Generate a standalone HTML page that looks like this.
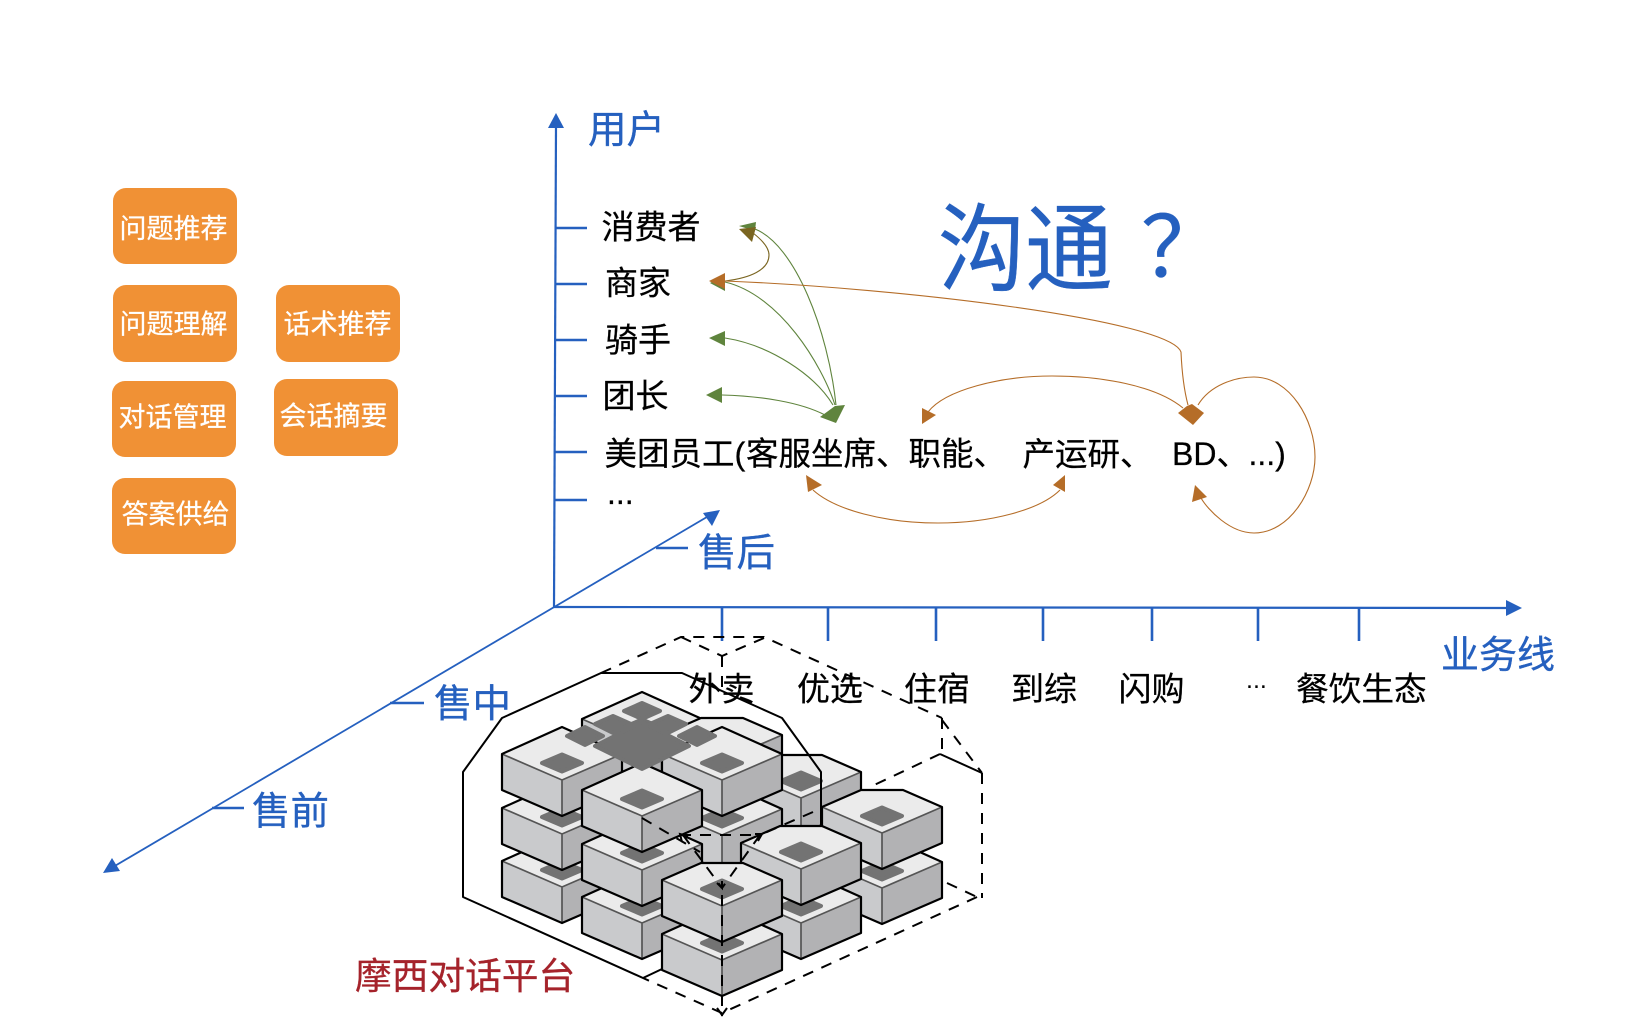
<!DOCTYPE html>
<html lang="zh"><head><meta charset="utf-8"><title>摩西对话平台</title>
<style>
html,body{margin:0;padding:0;background:#fff}
svg{display:block}
text{font-family:"Liberation Sans","Noto Sans CJK SC",sans-serif}
.b{fill:#2560BF;stroke:#2560BF;stroke-width:.35px;font-size:38.5px}
.k{fill:#000;stroke:#000;stroke-width:.25px;font-size:33px}
.w{fill:#fff;stroke:#fff;stroke-width:.25px;font-size:27px}
</style></head><body>
<svg width="1652" height="1022" viewBox="0 0 1652 1022" xmlns="http://www.w3.org/2000/svg">
<defs>
<polygon id="d" points="0,-25.5 20,-17 0,-8.5 -20,-17" fill="#737373" stroke="#737373" stroke-width="4" stroke-linejoin="round"/>
<g id="bk">
<polygon points="-60,-26 0,-53 60,-26 0,0" fill="#ebebeb"/>
<polygon points="-60,-26 0,0 0,36 -60,10" fill="#c9cacc"/>
<polygon points="60,-26 0,0 0,36 60,10" fill="#b2b2b4"/>
<use href="#d"/>
<path d="M-60 -26 L0 0 L60 -26 M0 0 V36" fill="none" stroke="#555" stroke-width="1.7"/>
<polygon points="-60,-26 0,-53 60,-26 60,10 0,36 -60,10" fill="none" stroke="#000" stroke-width="2.2" stroke-linejoin="round"/>
</g>
<g id="fl">
<polygon points="-60,-26 -21,-43 21,-43 60,-26 0,0" fill="#ebebeb"/>
<polygon points="-60,-26 0,0 0,36 -60,10" fill="#c9cacc"/>
<polygon points="60,-26 0,0 0,36 60,10" fill="#b2b2b4"/>
<use href="#d"/>
<path d="M-60 -26 L0 0 L60 -26 M0 0 V36" fill="none" stroke="#555" stroke-width="1.7"/>
<polygon points="-60,-26 -21,-43 21,-43 60,-26 60,10 0,36 -60,10" fill="none" stroke="#000" stroke-width="2.2" stroke-linejoin="round"/>
</g>
</defs>
<rect width="1652" height="1022" fill="#fff"/>

<!-- orange boxes -->
<g fill="#F09135">
<rect x="113" y="188" width="124" height="76" rx="13"/>
<rect x="113" y="285" width="124" height="77" rx="13"/>
<rect x="276" y="285" width="124" height="77" rx="13"/>
<rect x="112" y="381" width="124" height="76" rx="13"/>
<rect x="274" y="379" width="124" height="77" rx="13"/>
<rect x="112" y="478" width="124" height="76" rx="13"/>
</g>
<text class="w" x="119.5" y="238">问题推荐</text>
<text class="w" x="119.5" y="333.5">问题理解</text>
<text class="w" x="283.5" y="333.5">话术推荐</text>
<text class="w" x="118.5" y="426.5">对话管理</text>
<text class="w" x="279.5" y="425.5">会话摘要</text>
<text class="w" x="121.5" y="523.5">答案供给</text>

<!-- axes -->
<g stroke="#2560BF" fill="none">
<path d="M554 607 L556 125" stroke-width="2.2"/>
<path d="M554 607 L1510 608" stroke-width="2.2"/>
<path d="M108 870 L712 514" stroke-width="1.8"/>
<path d="M556 228H587M556 284H587M556 340H587M556 396H587M555 452H587M555 500H587" stroke-width="2.6"/>
<path d="M722 607V641M828 607V641M936 607V641M1043 607V641M1152 607V641M1258 607V641M1359 607V641" stroke-width="2.6"/>
<path d="M656 548H688M390 703H424M212 808H244" stroke-width="2.6"/>
</g>
<g fill="#2560BF">
<polygon points="556,113 548,128 564,128"/>
<polygon points="1522,608 1506,600 1506,616"/>
<polygon points="103,873 120,871 112,858"/>
<polygon points="720,510 703,513 712,526"/>
</g>

<!-- blue labels -->
<text class="b" x="588" y="143">用户</text>
<text class="b" x="698" y="566">售后</text>
<text class="b" x="434" y="717">售中</text>
<text class="b" x="252" y="824.5">售前</text>
<text class="b" x="1441" y="668" style="font-size:38px">业务线</text>
<g transform="translate(938,283) scale(.97,1.06)"><text class="b" x="0" y="0" style="font-size:90px">沟通</text></g>
<text class="b" x="1141" y="277" style="font-size:84px">？</text>

<!-- cube stack -->
<use href="#bk" x="642" y="745"/>
<use href="#fl" x="722" y="761"/>
<use href="#fl" x="801" y="798"/>
<use href="#bk" x="722" y="835"/>
<use href="#bk" x="722" y="780"/>
<use href="#bk" x="882" y="888"/>
<use href="#fl" x="882" y="833"/>
<use href="#bk" x="562" y="887"/>
<use href="#bk" x="562" y="834"/>
<use href="#bk" x="562" y="780"/>
<use href="#bk" x="642" y="923"/>
<use href="#bk" x="642" y="870"/>
<use href="#bk" x="642" y="816"/>
<g fill="#737373" stroke="#737373" stroke-width="4" stroke-linejoin="round">
<polygon points="642,722 689,746 642,769 595,746"/>
<polygon points="642,703 660,711 642,719 624,711"/>
<polygon points="613,716 631,724 613,733 595,724"/>
<polygon points="668,716 686,724 668,733 650,724"/>
<polygon points="585,727 603,736 585,745 567,736"/>
<polygon points="697,727 715,736 697,745 679,736"/>
</g>
<use href="#bk" x="801" y="923"/>
<use href="#fl" x="801" y="869"/>
<use href="#bk" x="722" y="960"/>
<use href="#fl" x="722" y="906"/>

<!-- outlines -->
<path d="M662 969 L643 978 L463 897 V772 L502 718 L601 673 H682 L782 718 L821 772 V827" fill="none" stroke="#000" stroke-width="2" stroke-linejoin="round"/>
<path d="M940 754 L982 773" fill="none" stroke="#000" stroke-width="2"/>
<g fill="none" stroke="#000" stroke-width="2" stroke-dasharray="11 9">
<path d="M601 673 L681 637 H764 L942 718"/>
<path d="M681 637 L722 656 L764 638"/>
<path d="M722 656 V690"/>
<path d="M942 718 V754"/>
<path d="M942 720 L982 773"/>
<path d="M940 754 L870 787"/>
<path d="M813 812 L760 835"/>
<path d="M982 773 V898"/>
<path d="M977 897 L722 1013 L643 978"/>
<path d="M947 883 L977 897"/>
<path d="M722 895 V1016"/>
<path d="M642 818 L700 852"/>
<path d="M680 835 H760"/>
<path d="M683 835 L722 888"/>
<path d="M760 835 L722 888"/>
</g>
<g fill="none" stroke="#000" stroke-width="2">
<path d="M717 883 L722 888 L722 881"/>
<path d="M755 834 L762 834 L758 841"/>
<path d="M682 842 L680 834 L688 836"/>
<path d="M717 1008 L722 1015 L727 1008"/>
</g>

<!-- black labels -->
<text class="k" x="601.5" y="238.5">消费者</text>
<text class="k" x="605" y="294.5">商家</text>
<text class="k" x="605" y="351.5">骑手</text>
<text class="k" x="602.5" y="407.5">团长</text>
<text class="k" x="604.5" y="465" style="font-size:32.5px">美团员工(<tspan x="746">客服坐席、职能、</tspan></text>
<text class="k" x="1022.5" y="465.5" style="font-size:32.5px">产运研、</text>
<text class="k" x="1172" y="465" style="font-size:32px">BD、...)</text>
<text class="k" x="607" y="504" style="font-size:32px">...</text>
<text class="k" x="688.5" y="700.5">外卖</text>
<text class="k" x="797" y="700.5">优选</text>
<text class="k" x="904" y="700.5">住宿</text>
<text class="k" x="1011" y="700.5">到综</text>
<text class="k" x="1118.5" y="700.5">闪购</text>
<text x="1246" y="688" style="font-size:25px;fill:#000">...</text>
<text class="k" x="1296" y="700.5" style="font-size:32.7px">餐饮生态</text>
<text x="355" y="989" style="font-size:36.7px;fill:#A5232B;stroke:#A5232B;stroke-width:.3px">摩西对话平台</text>

<!-- green connectors -->
<g fill="none" stroke="#5F843D" stroke-width="1.1">
<path d="M755 229 C795 245 828 330 836 405"/>
<path d="M725 282 C780 295 822 365 835 405"/>
<path d="M725 338 C770 345 815 375 833 405"/>
<path d="M722 395 C760 396 800 402 825 415"/>
</g>
<g fill="#5F843D">
<polygon points="739,226 756,222 755,231"/>
<polygon points="710,283 725,275 725,291"/>
<polygon points="709,338 725,331 725,346"/>
<polygon points="706,395 722,387 722,403"/>
<polygon points="835,406 845,405 836,423 820,417"/>
</g>
<path d="M725 281 C750 278 769 270 769 255 C769 248 762 240 753 233" fill="none" stroke="#7A6520" stroke-width="1.1"/>
<polygon points="739,229 756,227 752,242" fill="#7A6520"/>

<!-- orange connectors -->
<g fill="none" stroke="#B56D28" stroke-width="1.1">
<path d="M725 281 C900 288 1170 320 1181 352 C1182 375 1184 390 1188 405"/>
<path d="M928 412 C945 390 1000 376 1052 376 C1100 376 1155 385 1183 408"/>
<path d="M1198 405 C1210 385 1235 377 1254 377 C1290 377 1315 420 1315 457 C1315 490 1290 533 1254 533 C1230 533 1208 510 1201 498"/>
<path d="M813 490 C835 510 885 523 938 523 C990 523 1040 510 1060 490"/>
</g>
<g fill="#B56D28">
<polygon points="709,281 725,273 725,289"/>
<polygon points="922,408 936,415 922,424"/>
<polygon points="1178,413 1187,406 1192,404 1204,413 1193,425"/>
<polygon points="1195,485 1207,497 1192,502"/>
<polygon points="806,475 822,485 808,492"/>
<polygon points="1065,475 1053,485 1065,492"/>
</g>
</svg>
</body></html>
